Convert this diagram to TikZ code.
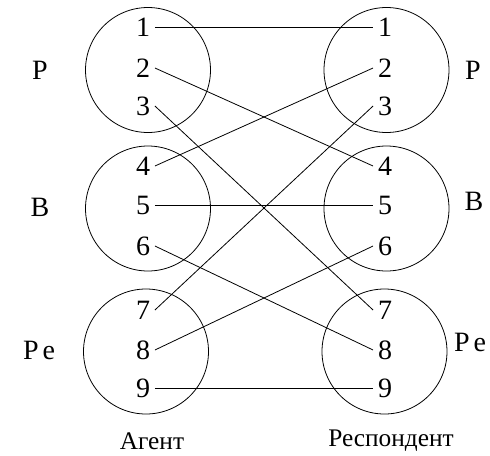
\documentclass[tikz,border=0pt]{standalone}
\usepackage{fontspec}
\setmainfont{Liberation Serif}
\begin{document}
\begin{tikzpicture}[x=0.75pt,y=-0.75pt,
  ring/.style={circle,draw,line width=0.6pt,minimum size=93.75pt,inner sep=0pt},
  num/.style={inner sep=3.5pt,font=\fontsize{21pt}{25pt}\selectfont},
  lab/.style={inner sep=0pt,font=\fontsize{21pt}{25pt}\selectfont},
  foot/.style={inner sep=0pt,font=\fontsize{19pt}{22pt}\selectfont},
  link/.style={line width=0.6pt}]
\useasboundingbox (0,0) rectangle (490,455);
% circles
\node[ring] (lc1) at (148,70) {};
\node[ring] (lc2) at (148,208.5) {};
\node[ring] (lc3) at (146,351.5) {};
\node[ring] (rc1) at (386.5,70) {};
\node[ring] (rc2) at (386.5,208.5) {};
\node[ring] (rc3) at (384.5,351.5) {};
% left numbers
\node[num] (l1) at (143,27) {1};
\node[num] (l2) at (143,68) {2};
\node[num] (l3) at (143,106) {3};
\node[num] (l4) at (143,166) {4};
\node[num] (l5) at (143,205) {5};
\node[num] (l6) at (143,246) {6};
\node[num] (l7) at (143,310) {7};
\node[num] (l8) at (143,350) {8};
\node[num] (l9) at (143,388) {9};
% right numbers
\node[num] (r1) at (385,27) {1};
\node[num] (r2) at (385,68) {2};
\node[num] (r3) at (385,106) {3};
\node[num] (r4) at (385,166) {4};
\node[num] (r5) at (385,205) {5};
\node[num] (r6) at (385,246) {6};
\node[num] (r7) at (385,310) {7};
\node[num] (r8) at (385,350) {8};
\node[num] (r9) at (385,388) {9};
% side labels
\node[lab] (pl) at (40,70) {Р};
\node[lab] (bl) at (40,207) {В};
\node[lab] (rel) at (39,350) {Р\hspace{3pt}е};
\node[lab] (pr) at (473,70) {Р};
\node[lab] (br) at (474,201) {В};
\node[lab] (rer) at (470,342) {Р\hspace{3pt}е};
% bottom labels
\node[foot] (ag) at (152,441) {Агент};
\node[foot] (rs) at (391,441) {Респондент};
% connections
\draw[link] (l1.east) -- (r1.west);
\draw[link] (l2.east) -- (r4.west);
\draw[link] (l3.east) -- (r7.west);
\draw[link] (l4.east) -- (r2.west);
\draw[link] (l5.east) -- (r5.west);
\draw[link] (l6.east) -- (r8.west);
\draw[link] (l7.east) -- (r3.west);
\draw[link] (l8.east) -- (r6.west);
\draw[link] (l9.east) -- (r9.west);
\end{tikzpicture}
\end{document}
